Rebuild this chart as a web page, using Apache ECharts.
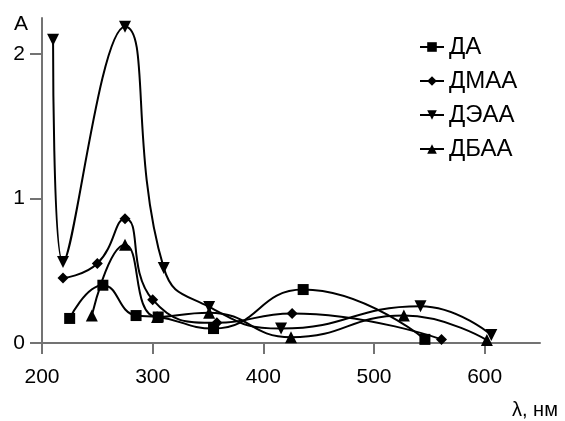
<!DOCTYPE html>
<html>
<head>
<meta charset="utf-8">
<script src="https://cdn.jsdelivr.net/npm/echarts@6/dist/echarts.min.js"></script>
<style>
  html, body { margin: 0; padding: 0; background: #fff; }
  #main { width: 565px; height: 421px; }
</style>
</head>
<body>
<div id="main"></div>
<script>
var myChart = echarts.init(document.getElementById('main'));

// wavelength (nm) and absorbance for each compound
var daX = [225, 255, 285, 305, 355, 436, 546];
var daY = [0.17, 0.40, 0.19, 0.18, 0.10, 0.37, 0.025];

var dmaaX = [219, 250, 275, 300, 358, 426, 561];
var dmaaY = [0.45, 0.55, 0.86, 0.30, 0.14, 0.205, 0.025];

var deaaX = [210, 219, 275, 310, 351, 416, 542, 606];
var deaaY = [2.10, 0.56, 2.19, 0.52, 0.25, 0.10, 0.255, 0.055];

var dbaaX = [245, 275, 304, 351, 425, 527, 602];
var dbaaY = [0.19, 0.68, 0.18, 0.21, 0.04, 0.19, 0.02];

var xTicks = [200, 300, 400, 500, 600];
var yTicks = [0, 1, 2];

function pairs(xs, ys) {
    return xs.map(function (x, i) { return [x, ys[i]]; });
}

function line(name, xs, ys, symbol, size, rotate) {
    return {
        name: name,
        type: 'line',
        data: pairs(xs, ys),
        smooth: 0.5,
        symbol: symbol,
        symbolSize: size,
        symbolRotate: rotate || 0,
        lineStyle: { color: '#000', width: 2 },
        itemStyle: { color: '#000', borderWidth: 0 }
    };
}

var axisGray = '#737373';

option = {
    animation: false,
    grid: { left: 42, right: 25, top: 18, bottom: 78 },
    legend: {
        orient: 'vertical',
        left: 414,
        top: 30,
        itemWidth: 24,
        itemHeight: 12,
        itemGap: 10,
        textStyle: { color: '#000', fontSize: 24, lineHeight: 24, fontFamily: 'Liberation Sans' },
        data: ['ДА', 'ДМАА', 'ДЭАА', 'ДБАА']
    },
    xAxis: {
        type: 'value',
        min: 200,
        max: 650,
        interval: 100,
        name: 'λ, нм',
        nameLocation: 'end',
        nameGap: -28,
        nameTextStyle: {
            color: '#000', fontSize: 20, fontFamily: 'Liberation Sans',
            align: 'left', verticalAlign: 'top', padding: [57, 0, 0, 0]
        },
        splitLine: { show: false },
        axisLine: { lineStyle: { color: axisGray, width: 2 } },
        axisTick: { show: true, length: 11, customValues: xTicks, lineStyle: { color: axisGray, width: 2 } },
        axisLabel: { customValues: xTicks, color: '#000', fontSize: 21, margin: 24, fontFamily: 'Liberation Sans' }
    },
    yAxis: {
        type: 'value',
        min: 0,
        max: 2.25,
        interval: 1,
        name: 'A',
        nameLocation: 'end',
        nameGap: -6,
        nameTextStyle: {
            color: '#000', fontSize: 21, fontFamily: 'Liberation Sans',
            align: 'right', verticalAlign: 'middle', padding: [0, 14, 0, 0]
        },
        splitLine: { show: false },
        axisLine: { show: true, lineStyle: { color: axisGray, width: 2 } },
        axisTick: { show: true, length: 12, customValues: yTicks, lineStyle: { color: axisGray, width: 2 } },
        axisLabel: { customValues: yTicks, color: '#000', fontSize: 21, margin: 17, fontFamily: 'Liberation Sans' }
    },
    series: [
        line('ДА', daX, daY, 'rect', 11),
        line('ДМАА', dmaaX, dmaaY, 'diamond', 11),
        line('ДЭАА', deaaX, deaaY, 'triangle', 12, 180),
        line('ДБАА', dbaaX, dbaaY, 'triangle', 12)
    ]
};

myChart.setOption(option);
</script>
</body>
</html>
